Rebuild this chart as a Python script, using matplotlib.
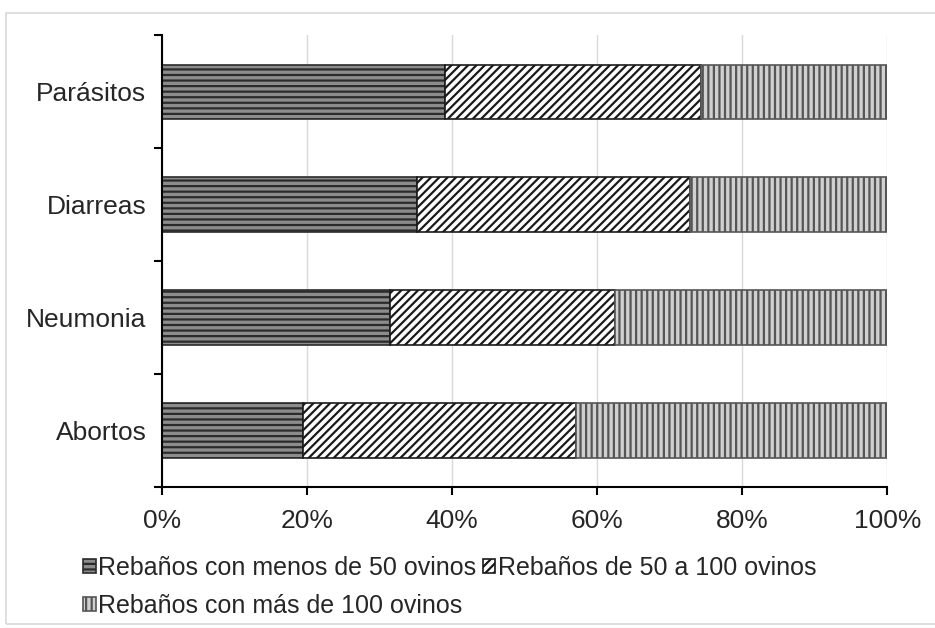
import matplotlib
matplotlib.use("Agg")
import matplotlib.pyplot as plt
from matplotlib.patches import Rectangle
from matplotlib.ticker import FuncFormatter

# datos (porcentajes, apilados)
categorias = ["Abortos", "Neumonia", "Diarreas", "Parásitos"]
menos_50 = [19.5, 31.5, 35.2, 39.0]
de_50_a_100 = [37.6, 31.0, 37.6, 35.3]
mas_100 = [42.9, 37.5, 27.2, 25.7]
series = ["Rebaños con menos de 50 ovinos", "Rebaños de 50 a 100 ovinos",
          "Rebaños con más de 100 ovinos"]

plt.rcParams["font.family"] = ["Liberation Sans", "DejaVu Sans"]
plt.rcParams["hatch.linewidth"] = 1.6

fig = plt.figure(figsize=(9.35, 6.28), dpi=100)
ax = fig.add_axes([0.173, 0.2245, 0.776, 0.7195])

# borde gris del grafico
fig.patches.append(Rectangle((0.006, 0.006), 1.2, 0.973, transform=fig.transFigure,
                             fill=False, edgecolor="#d9d9d9", linewidth=1.2))

y = range(len(categorias))
alto = 0.48
b1 = ax.barh(y, menos_50, height=alto, color="#8c8c8c", hatch="---",
             edgecolor="#2b2b2b", linewidth=1.2)
b2 = ax.barh(y, de_50_a_100, left=menos_50, height=alto, color="white", hatch="////",
             edgecolor="#1a1a1a", linewidth=1.2)
izq3 = [a + b for a, b in zip(menos_50, de_50_a_100)]
b3 = ax.barh(y, mas_100, left=izq3, height=alto, color="#d0d0d0", hatch="|||",
             edgecolor="#555555", linewidth=1.2)

ax.set_xlim(0, 100)
ax.set_ylim(-0.5, len(categorias) - 0.5)
ax.set_xticks([0, 20, 40, 60, 80, 100])
ax.xaxis.set_major_formatter(FuncFormatter(lambda v, p: "%d%%" % v))
ax.set_yticks([-0.5, 0.5, 1.5, 2.5, 3.5])
ax.set_yticklabels([])
ax.set_yticks(list(y), minor=True)
ax.set_yticklabels(categorias, minor=True)
ax.tick_params(axis="y", which="minor", length=0, labelsize=19, labelcolor="#262626", pad=11)
ax.tick_params(axis="y", which="major", length=6, width=1.5, direction="out")
ax.tick_params(axis="x", length=6, width=1.5, direction="out", labelsize=19,
               labelcolor="#262626", pad=10)

ax.grid(axis="x", color="#d9d9d9", linewidth=1)
ax.set_axisbelow(True)
ax.spines["top"].set_visible(False)
ax.spines["right"].set_visible(False)
ax.spines["left"].set_linewidth(1.5)
ax.spines["bottom"].set_linewidth(1.5)

# leyenda: orden por columnas para obtener A B / C
hs = [b1, b3, b2]
ls = [series[0], series[2], series[1]]
fig.legend(hs, ls, loc="upper left", bbox_to_anchor=(0.089, 0.115), ncol=2,
           frameon=False, fontsize=18, handlelength=0.5, handleheight=0.5,
           handletextpad=0.1, columnspacing=0.25, labelspacing=0.55,
           borderaxespad=0, borderpad=0, labelcolor="#262626")

fig.savefig("out.png", dpi=100)
